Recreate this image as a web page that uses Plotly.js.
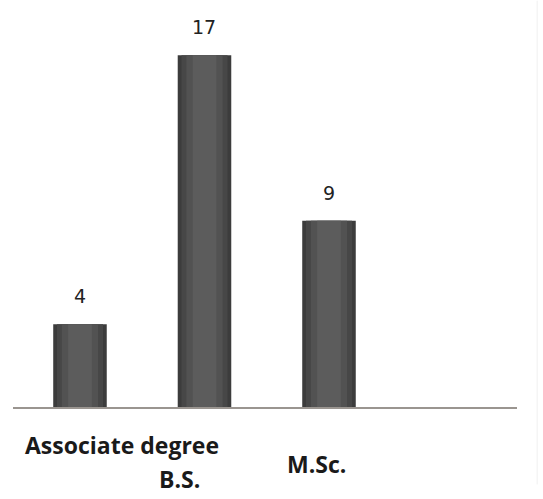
<!DOCTYPE html>
<html>
<head>
<meta charset="utf-8">
<script src="https://cdn.plot.ly/plotly-3.0.1.min.js"></script>
<style>html,body{margin:0;padding:0;background:#fff;}#chart{width:543px;height:499px;}</style>
</head>
<body>
<div id="chart"></div>
<script>
var categories = ["Associate degree", "B.S.", "M.Sc."];
var values = [4, 17, 9];
var labelShiftX = [42, -25, -13];
var labelShiftY = [-38, -72, -57];

var xs = [0, 1, 2];
var layers = [
  {w: 0.43, c: "#3c3c3c"},
  {w: 0.37, c: "#474747"},
  {w: 0.29, c: "#525252"},
  {w: 0.19, c: "#5c5c5c"}
];
var traces = layers.map(function (l) {
  return {
    type: "bar", x: xs, y: values, width: l.w,
    marker: {color: l.c, line: {width: 0}},
    hoverinfo: "skip", showlegend: false
  };
});

var annotations = [];
values.forEach(function (v, i) {
  annotations.push({
    x: xs[i], y: v, xref: "x", yref: "y", text: String(v), showarrow: false,
    yanchor: "middle", yshift: 28,
    font: {family: "DejaVu Sans", size: 19, color: "#222"}
  });
  annotations.push({
    x: xs[i], y: 0, xref: "x", yref: "y", text: "<b>" + categories[i] + "</b>", showarrow: false,
    yanchor: "middle", xshift: labelShiftX[i], yshift: labelShiftY[i], borderpad: 0,
    font: {family: "Open Sans", size: 23, color: "#1a1a1a"}
  });
});

var layout = {
  width: 543, height: 499,
  margin: {l: 13, r: 26, t: 20, b: 92},
  paper_bgcolor: "#ffffff", plot_bgcolor: "#ffffff",
  barmode: "overlay",
  xaxis: {range: [-0.538, 3.51], showticklabels: false, ticks: "", showgrid: false,
          zeroline: false, showline: true, linecolor: "#9a9590", linewidth: 2, fixedrange: true},
  yaxis: {range: [0, 18.7], visible: false, showgrid: false, zeroline: false, fixedrange: true},
  annotations: annotations,
  shapes: [{type: "line", xref: "paper", yref: "paper", x0: 1.04, x1: 1.04, y0: -0.2, y1: 1.05,
            line: {color: "#f0f0f0", width: 1}}]
};

Plotly.newPlot("chart", traces, layout, {displayModeBar: false, staticPlot: true});
</script>
</body>
</html>
